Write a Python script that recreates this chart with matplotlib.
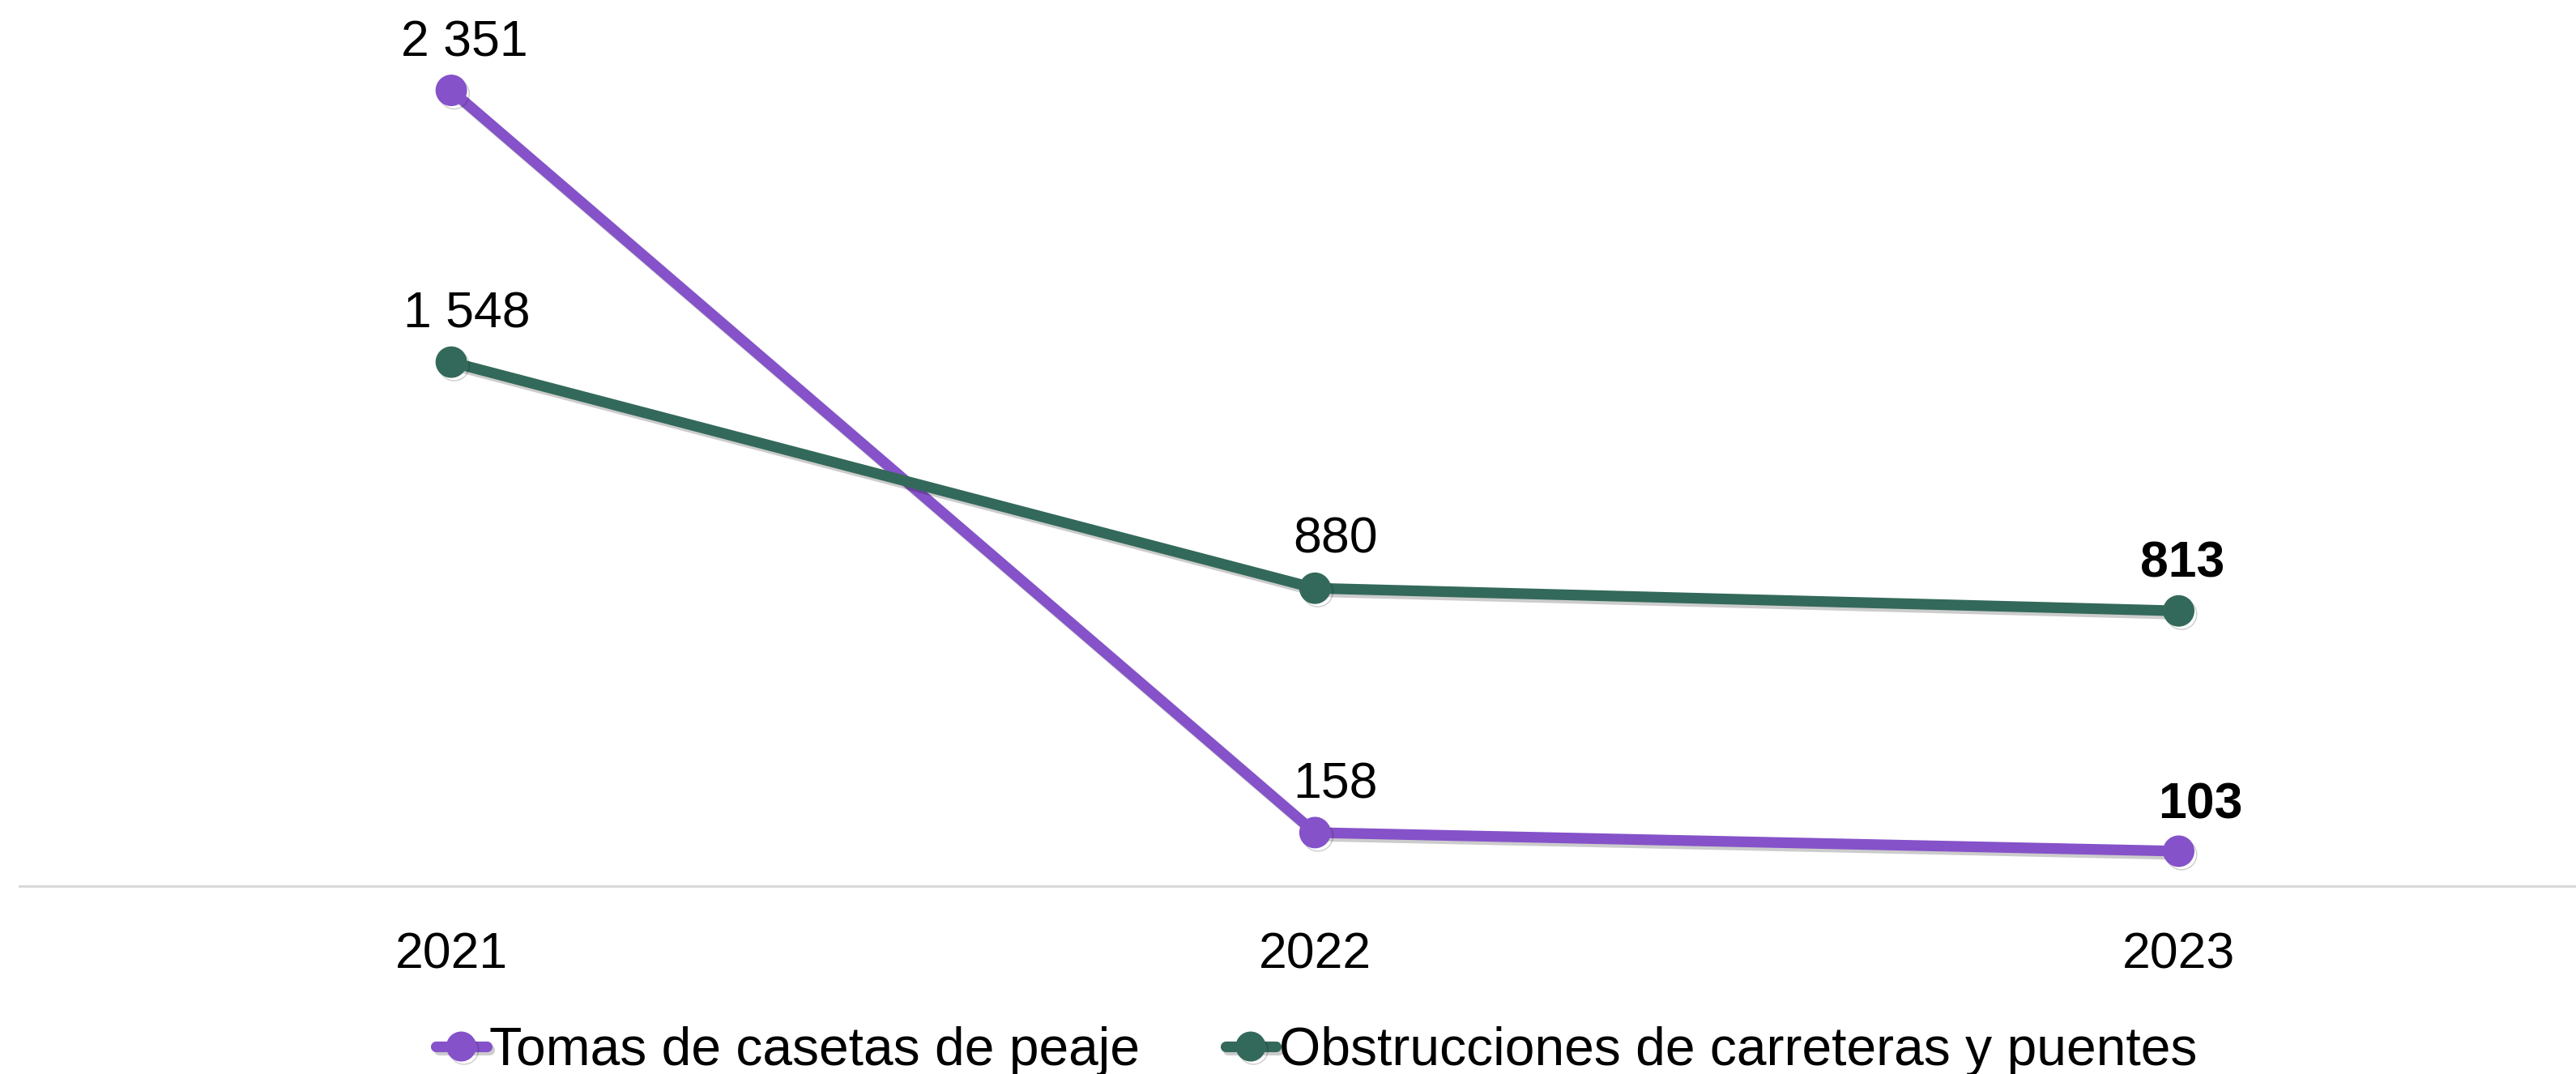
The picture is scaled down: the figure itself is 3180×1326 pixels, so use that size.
import matplotlib.pyplot as plt
import matplotlib.patheffects as pe

plt.rcParams['font.family'] = ['Liberation Sans', 'DejaVu Sans']

years = ['2021', '2022', '2023']
tomas = [2351, 158, 103]
obstrucciones = [1548, 880, 813]
tomas_labels = ['2 351', '158', '103']
obstrucciones_labels = ['1 548', '880', '813']

series_names = ['Tomas de casetas de peaje', 'Obstrucciones de carreteras y puentes']
colors = ['#8552C9', '#33695A']

fig = plt.figure(figsize=(31.8, 13.26), dpi=100)
ax = fig.add_axes([24 / 3180, 0.175, 1 - 24 / 3180, 0.825])

shadow = [pe.SimpleLineShadow(offset=(2.5, -3), shadow_color='black', alpha=0.2),
          pe.Normal()]

x = list(range(len(years)))
ax.plot(x, tomas, color=colors[0], lw=9.5, marker='o', ms=27,
        solid_capstyle='round', path_effects=shadow, label=series_names[0], zorder=3)
ax.plot(x, obstrucciones, color=colors[1], lw=9.5, marker='o', ms=27,
        solid_capstyle='round', path_effects=shadow, label=series_names[1], zorder=4)

# value labels, last year in bold
tomas_off = [(12, 21), (18, 21), (19, 20)]
obs_off = [(14, 21), (18, 22), (3, 21)]
for i, (v, s) in enumerate(zip(tomas, tomas_labels)):
    ax.annotate(s, (i, v), xytext=tomas_off[i], textcoords='offset points',
                ha='center', va='bottom', fontsize=45,
                fontweight='bold' if i == len(years) - 1 else 'normal')
for i, (v, s) in enumerate(zip(obstrucciones, obstrucciones_labels)):
    ax.annotate(s, (i, v), xytext=obs_off[i], textcoords='offset points',
                ha='center', va='bottom', fontsize=45,
                fontweight='bold' if i == len(years) - 1 else 'normal')

ax.set_xlim(-0.5, 2.46)
ax.set_ylim(0, 2618)
ax.set_xticks(x)
ax.set_xticklabels(years, fontsize=45)
ax.set_yticks([])
ax.tick_params(axis='x', length=0, pad=40)
for side in ['top', 'right', 'left']:
    ax.spines[side].set_visible(False)
ax.spines['bottom'].set_color('#D9D9D9')
ax.spines['bottom'].set_linewidth(2.2)

fig.legend(loc='center', bbox_to_anchor=(0.511, 0.021), ncol=2, frameon=False,
           fontsize=47.5, handlelength=0.95, handletextpad=0.05, columnspacing=1.6,
           markerscale=0.95)

fig.savefig('out.png', dpi=100, facecolor='white')
